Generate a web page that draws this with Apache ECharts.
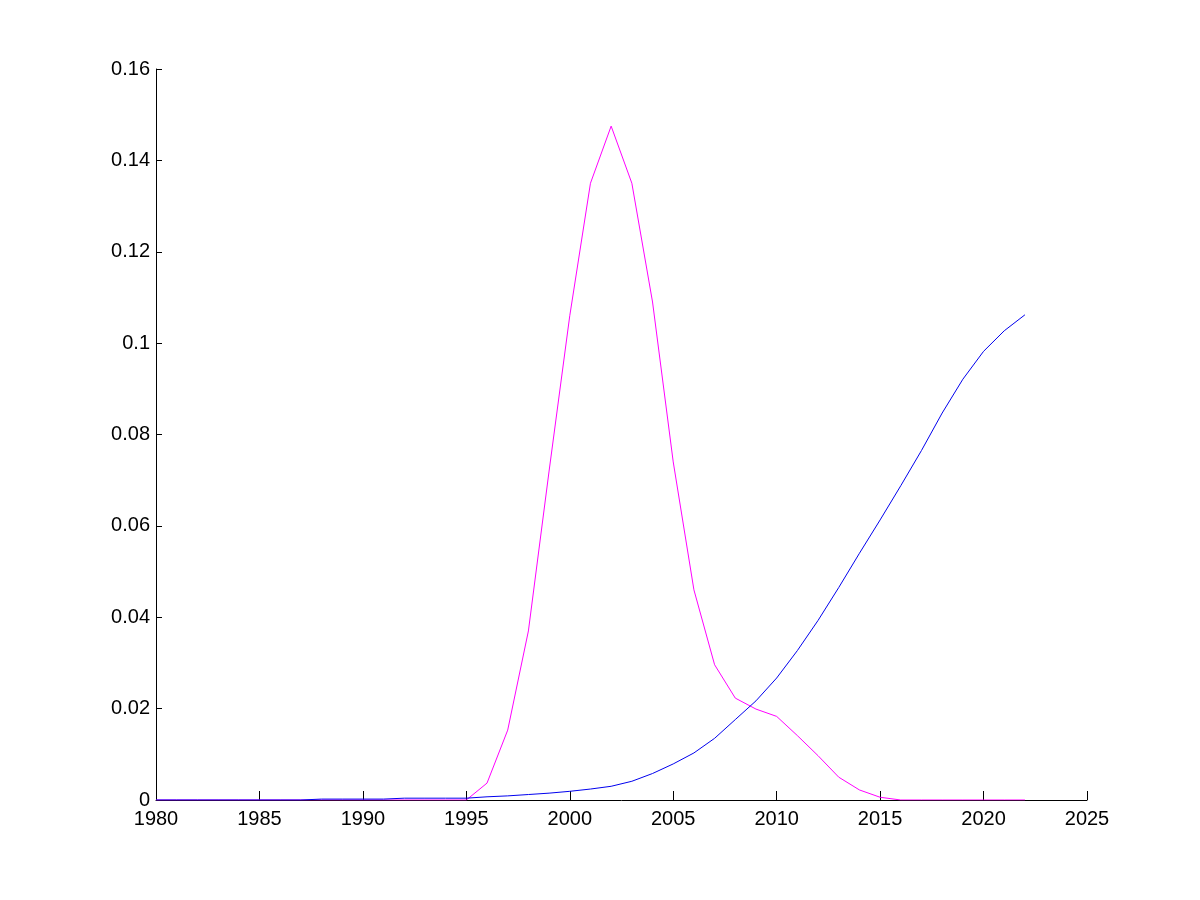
<!DOCTYPE html>
<html>
<head>
<meta charset="utf-8">
<script src="https://cdn.jsdelivr.net/npm/echarts@6/dist/echarts.min.js"></script>
<style>html,body{margin:0;padding:0;background:#fff;}#c{width:1200px;height:900px;}</style>
</head>
<body>
<div id="c"></div>
<script>
const years = [1980,1981,1982,1983,1984,1985,1986,1987,1988,1989,1990,1991,1992,1993,1994,1995,1996,1997,1998,1999,2000,2001,2002,2003,2004,2005,2006,2007,2008,2009,2010,2011,2012,2013,2014,2015,2016,2017,2018,2019,2020,2021,2022];
const magentaValues = [0,0,0,0,0,0,0,0,0,0,0,0,0,0,0,0,0.0037,0.0153,0.037,0.072,0.106,0.135,0.1475,0.135,0.109,0.074,0.046,0.0296,0.0223,0.0199,0.0183,0.0141,0.0097,0.005,0.0022,0.0006,0,0,0,0,0,0,0];
const blueValues = [0,0,0,0,0,0,0,0,0.0002,0.0002,0.0002,0.0002,0.0004,0.0004,0.0004,0.0004,0.0007,0.0009,0.0012,0.0015,0.0019,0.0024,0.003,0.0041,0.0058,0.0079,0.0103,0.0135,0.0176,0.0217,0.0267,0.0327,0.0393,0.0465,0.054,0.0613,0.0688,0.0765,0.0847,0.0921,0.0982,0.1027,0.1062];
const yTickLabels = ['0','0.02','0.04','0.06','0.08','0.1','0.12','0.14','0.16'];

const chart = echarts.init(document.getElementById('c'), null, {renderer:'canvas'});
const font = {fontFamily:'Liberation Sans, Arial, sans-serif', fontSize:20, color:'#000'};
chart.setOption({
  animation:false,
  backgroundColor:'#fff',
  grid:{left:156, right:113, top:69, bottom:100, containLabel:false},
  xAxis:{
    type:'value', min:1980, max:2025, interval:5,
    axisLine:{show:true, onZero:false, lineStyle:{color:'#000', width:1}},
    axisTick:{show:true, inside:true, length:9, lineStyle:{color:'#000'}},
    axisLabel:Object.assign({margin:9, formatter:v=>String(v)}, font),
    splitLine:{show:false}
  },
  yAxis:{
    type:'value', min:0, max:0.16, interval:0.02,
    axisLine:{show:true, lineStyle:{color:'#000', width:1}},
    axisTick:{show:true, inside:true, length:6, lineStyle:{color:'#000'}},
    axisLabel:Object.assign({margin:6, formatter:(v)=>yTickLabels[Math.round(v/0.02)]}, font),
    splitLine:{show:false}
  },
  series:[
    {type:'line', data:years.map((y,i)=>[y, magentaValues[i]]), symbol:'none', lineStyle:{color:'#ff00ff', width:1}, z:2},
    {type:'line', data:years.map((y,i)=>[y, blueValues[i]]), symbol:'none', lineStyle:{color:'#0000ee', width:1}, z:3}
  ]
});
</script>
</body>
</html>
